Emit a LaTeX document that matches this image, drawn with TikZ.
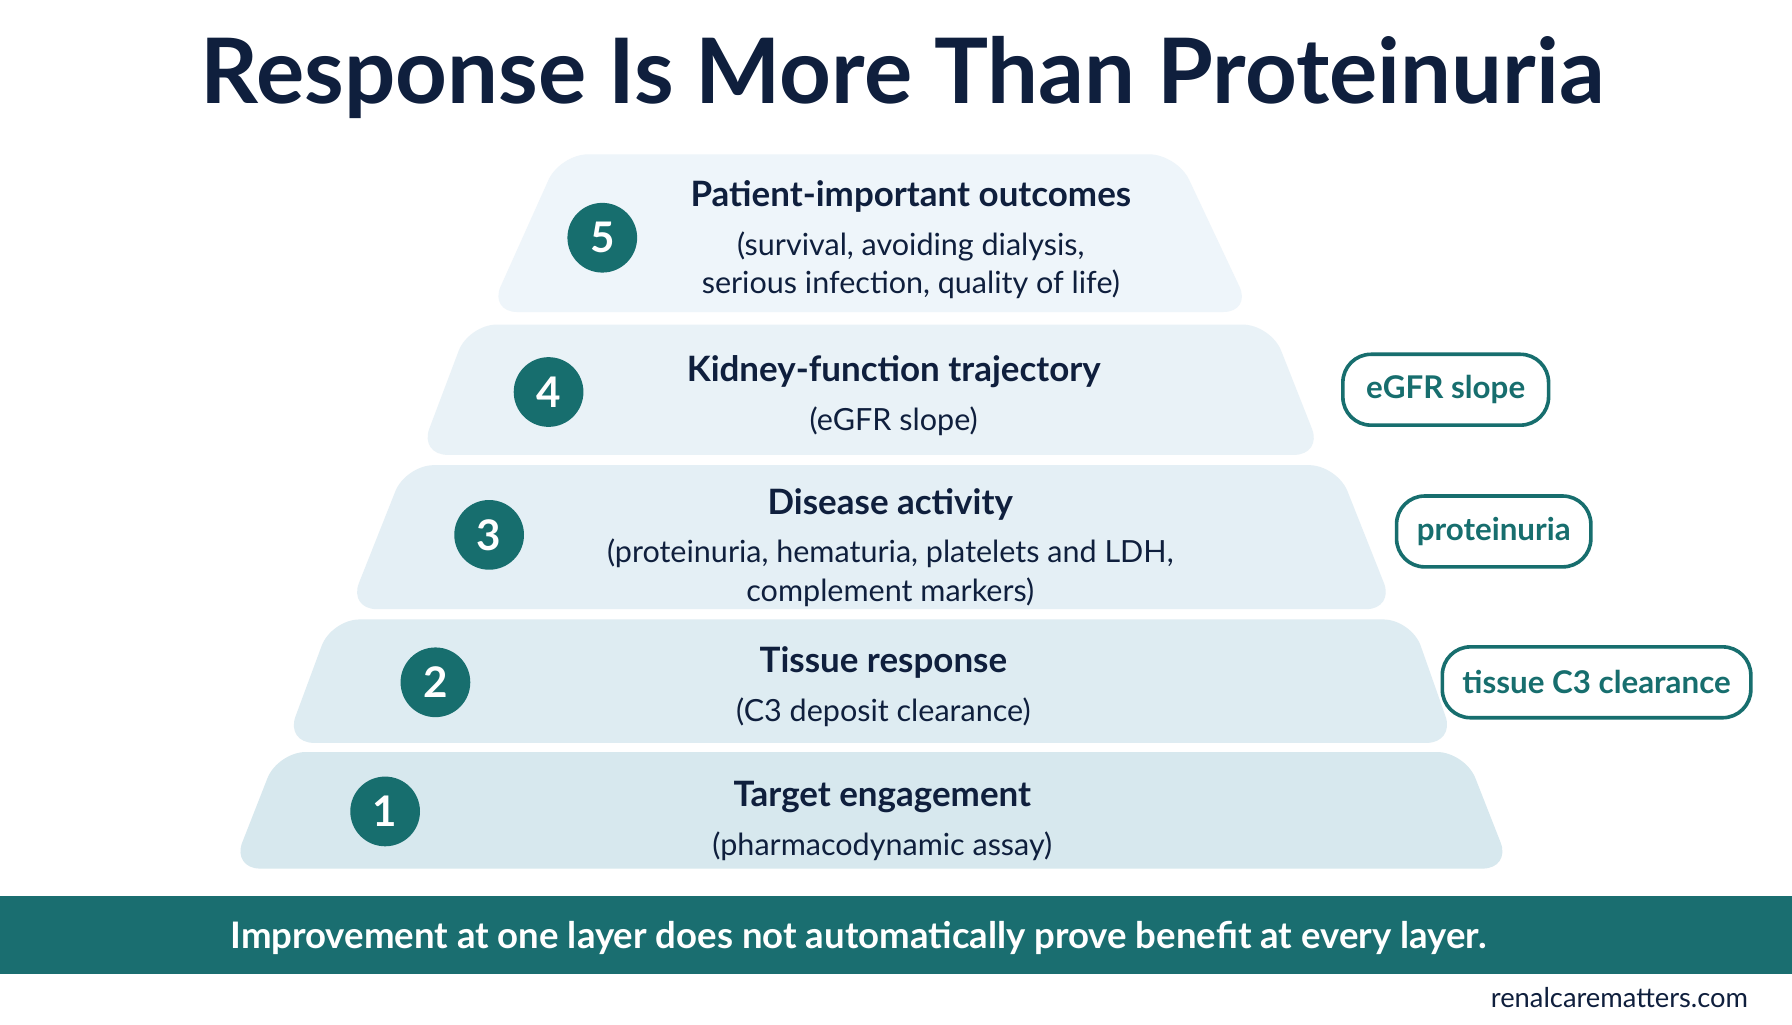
\documentclass[tikz,border=0pt]{standalone}
\usepackage{fontspec}
\setmainfont{Lato}
\usetikzlibrary{positioning}
\definecolor{navy}{HTML}{0F1F3D}
\definecolor{teal}{HTML}{176E6E}
\definecolor{banner}{HTML}{1A6E70}
\definecolor{layA}{HTML}{D7E8EE}
\definecolor{layE}{HTML}{EEF5FA}
\tikzset{
  layer/.style={rounded corners=7pt, draw=none},
  num/.style={circle, fill=teal, text=white, minimum size=6.1mm, inner sep=0pt, font=\fontsize{10.5}{11}\selectfont\bfseries},
  head/.style={text=navy, font=\fontsize{8.7}{10}\selectfont\bfseries},
  sub/.style={text=navy, align=center, inner ysep=1pt, font=\fontsize{7.6}{9.6}\selectfont},
  tag/.style={draw=teal, line width=0.9pt, fill=white, rounded corners=7pt, text=teal, font=\fontsize{7.8}{9}\selectfont\bfseries, minimum height=6.2mm, inner xsep=5pt}
}
\begin{document}
\begin{tikzpicture}[x=0.1mm, y=-0.1mm]
\useasboundingbox (0,0) rectangle (1568,896);
\fill[white] (0,0) rectangle (1568,896);
\node[text=navy, font=\fontsize{22.5}{23}\selectfont\bfseries] (title) at (790,68) {Response Is More Than Proteinuria};
% layers, bottom to top
\fill[layer, fill=layA] (203,760) -- (243,658) -- (1282,658) -- (1322,760) -- cycle;
\fill[layer, fill=layA!70!layE] (250,650) -- (290,542) -- (1235,542) -- (1273,650) -- cycle;
\fill[layer, fill=layA!45!layE] (305,533) -- (355,407) -- (1170,407) -- (1220,533) -- cycle;
\fill[layer, fill=layA!22!layE] (367,398) -- (410,284) -- (1112,284) -- (1157,398) -- cycle;
\fill[layer, fill=layE] (428,273) -- (490,135) -- (1030,135) -- (1095,273) -- cycle;
% numbers
\node[num] (n5) at (527,208) {5};
\node[num] (n4) at (480,343) {4};
\node[num] (n3) at (428,468) {3};
\node[num] (n2) at (381,597) {2};
\node[num] (n1) at (337,710) {1};
% texts
\node[head] (h5) at (797,172) {Patient-important outcomes};
\node[sub, below=0pt of h5] (s5) {(survival, avoiding dialysis,\\serious infection, quality of life)};
\node[head] (h4) at (782,325) {Kidney-function trajectory};
\node[sub, below=0pt of h4] (s4) {(eGFR slope)};
\node[head] (h3) at (779,441) {Disease activity};
\node[sub, below=0pt of h3] (s3) {(proteinuria, hematuria, platelets and LDH,\\complement markers)};
\node[head] (h2) at (773,580) {Tissue response};
\node[sub, below=0pt of h2] (s2) {(C3 deposit clearance)};
\node[head] (h1) at (772,697) {Target engagement};
\node[sub, below=0pt of h1] (s1) {(pharmacodynamic assay)};
% tags
\node[tag, minimum width=18mm] (t4) at (1265,341) {eGFR slope};
\node[tag, minimum width=17mm] (t3) at (1307,465) {proteinuria};
\node[tag, minimum width=23.3mm] (t2) at (1397,597) {tissue C3 clearance};
% banner
\fill[banner] (0,784) rectangle (1568,852);
\node[text=white, font=\fontsize{9.1}{11}\selectfont\bfseries] (msg) at (751,821) {Improvement at one layer does not automatically prove benefit at every layer.};
\node[anchor=east, text=navy, font=\fontsize{6.8}{8}\selectfont] (web) at (1542,873) {renalcarematters.com};
\end{tikzpicture}
\end{document}
